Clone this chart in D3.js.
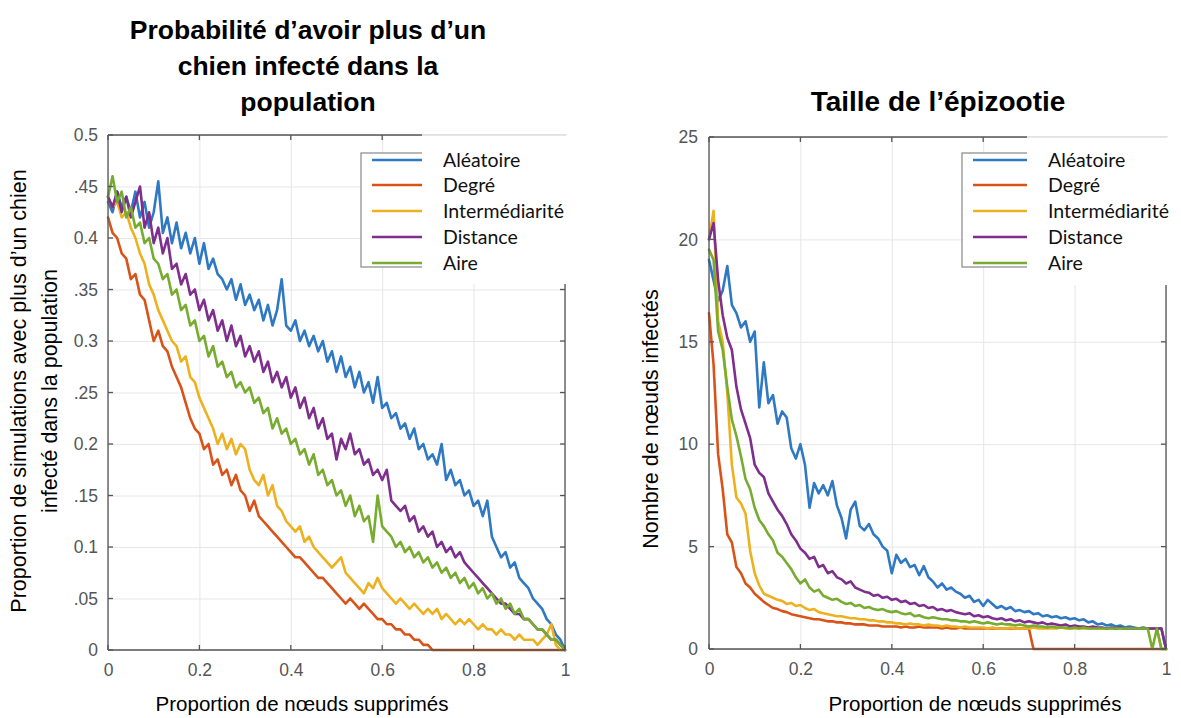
<!DOCTYPE html>
<html><head><meta charset="utf-8">
<script src="https://cdn.jsdelivr.net/npm/d3@7"></script>
<style>body{margin:0;background:#fff;} svg{display:block}</style>
</head><body><svg id="c" width="1181" height="718"></svg>
<script>
// ---------- DATA ----------
const proportions = [
0,0.01,0.02,0.03,0.04,0.05,0.06,0.07,0.08,0.09,
0.10,0.11,0.12,0.13,0.14,0.15,0.16,0.17,0.18,0.19,
0.20,0.21,0.22,0.23,0.24,0.25,0.26,0.27,0.28,0.29,
0.30,0.31,0.32,0.33,0.34,0.35,0.36,0.37,0.38,0.39,
0.40,0.41,0.42,0.43,0.44,0.45,0.46,0.47,0.48,0.49,
0.50,0.51,0.52,0.53,0.54,0.55,0.56,0.57,0.58,0.59,
0.60,0.61,0.62,0.63,0.64,0.65,0.66,0.67,0.68,0.69,
0.70,0.71,0.72,0.73,0.74,0.75,0.76,0.77,0.78,0.79,
0.80,0.81,0.82,0.83,0.84,0.85,0.86,0.87,0.88,0.89,
0.90,0.91,0.92,0.93,0.94,0.95,0.96,0.97,0.98,0.99,
1.00];

const seriesNames = ["Aléatoire","Degré","Intermédiarité","Distance","Aire"];
const seriesColors = ["#2f78c4","#d95319","#edb120","#7e2f8e","#77ac30"];

// Left panel: probability of more than one infected dog
const probAleatoire = [
0.435,0.425,0.445,0.43,0.44,0.425,0.445,0.42,0.435,0.41,
0.425,0.455,0.405,0.42,0.395,0.415,0.39,0.405,0.385,0.40,
0.375,0.395,0.37,0.38,0.365,0.36,0.35,0.36,0.34,0.355,
0.335,0.345,0.33,0.34,0.32,0.335,0.315,0.33,0.36,0.315,
0.31,0.32,0.30,0.31,0.295,0.305,0.29,0.30,0.28,0.29,
0.27,0.285,0.265,0.275,0.255,0.27,0.25,0.26,0.24,0.265,
0.235,0.24,0.225,0.23,0.215,0.22,0.205,0.215,0.195,0.20,
0.185,0.19,0.18,0.20,0.165,0.175,0.16,0.165,0.15,0.155,
0.14,0.145,0.13,0.145,0.11,0.10,0.09,0.095,0.08,0.085,
0.07,0.065,0.06,0.05,0.045,0.04,0.03,0.025,0.015,0.01,
0];
const probDegre = [
0.42,0.405,0.40,0.385,0.38,0.36,0.365,0.345,0.34,0.32,
0.30,0.31,0.295,0.29,0.275,0.265,0.255,0.24,0.225,0.215,
0.21,0.195,0.20,0.18,0.185,0.17,0.175,0.16,0.17,0.155,
0.15,0.135,0.145,0.13,0.125,0.12,0.115,0.11,0.105,0.10,
0.095,0.09,0.09,0.085,0.08,0.075,0.07,0.07,0.065,0.06,
0.055,0.05,0.045,0.05,0.045,0.04,0.045,0.04,0.035,0.03,
0.03,0.025,0.025,0.02,0.02,0.015,0.015,0.01,0.01,0.005,
0.005,0,0,0,0,0,0,0,0,0,
0,0,0,0,0,0,0,0,0,0,
0,0,0,0,0,0,0,0,0,0,
0];
const probIntermediarite = [
0.44,0.43,0.435,0.42,0.425,0.41,0.40,0.385,0.375,0.355,
0.345,0.33,0.32,0.31,0.30,0.295,0.28,0.285,0.265,0.26,
0.245,0.235,0.225,0.215,0.20,0.21,0.195,0.205,0.19,0.20,
0.195,0.175,0.165,0.16,0.17,0.15,0.16,0.14,0.135,0.125,
0.12,0.115,0.12,0.105,0.11,0.10,0.095,0.09,0.085,0.08,
0.085,0.09,0.075,0.07,0.065,0.06,0.055,0.065,0.06,0.07,
0.06,0.055,0.05,0.045,0.05,0.045,0.04,0.045,0.04,0.035,
0.04,0.035,0.04,0.03,0.035,0.03,0.025,0.03,0.025,0.03,
0.025,0.02,0.025,0.02,0.02,0.015,0.02,0.015,0.015,0.01,
0.015,0.01,0.01,0.01,0.005,0.01,0.015,0.025,0.005,0,
0];
const probDistance = [
0.44,0.43,0.445,0.425,0.44,0.42,0.435,0.45,0.41,0.425,
0.395,0.41,0.385,0.40,0.37,0.375,0.355,0.365,0.345,0.35,
0.33,0.34,0.32,0.33,0.31,0.32,0.30,0.315,0.295,0.305,
0.285,0.295,0.28,0.29,0.27,0.28,0.26,0.27,0.255,0.265,
0.245,0.255,0.235,0.245,0.225,0.235,0.215,0.225,0.205,0.21,
0.185,0.205,0.195,0.21,0.19,0.195,0.18,0.185,0.17,0.175,
0.165,0.175,0.145,0.14,0.135,0.14,0.125,0.13,0.115,0.12,
0.11,0.115,0.10,0.105,0.095,0.10,0.09,0.095,0.085,0.08,
0.075,0.07,0.065,0.06,0.055,0.05,0.045,0.045,0.04,0.035,
0.035,0.03,0.03,0.025,0.02,0.02,0.015,0.01,0.01,0.005,
0];
const probAire = [
0.44,0.46,0.435,0.445,0.42,0.43,0.41,0.415,0.395,0.40,
0.38,0.375,0.36,0.365,0.345,0.35,0.33,0.335,0.315,0.32,
0.30,0.305,0.285,0.295,0.275,0.28,0.265,0.27,0.255,0.26,
0.25,0.255,0.24,0.245,0.23,0.235,0.215,0.225,0.21,0.215,
0.20,0.205,0.19,0.195,0.18,0.19,0.17,0.175,0.16,0.165,
0.15,0.155,0.14,0.15,0.13,0.14,0.125,0.13,0.105,0.15,
0.12,0.115,0.11,0.10,0.105,0.095,0.10,0.09,0.095,0.085,
0.09,0.08,0.085,0.075,0.08,0.07,0.075,0.065,0.07,0.06,
0.065,0.055,0.06,0.05,0.055,0.045,0.05,0.04,0.045,0.035,
0.04,0.03,0.03,0.025,0.02,0.02,0.015,0.01,0.01,0.005,
0];

// Right panel: epizootic size (number of infected nodes)
const tailleAleatoire = [
19.0,18.0,17.0,17.5,18.7,16.8,16.4,15.7,16.0,15.0,
15.5,11.8,14.0,12.0,12.4,11.0,11.6,11.3,9.8,9.3,
10.0,9.0,6.9,8.1,7.6,8.0,7.5,8.2,7.0,6.4,
5.4,6.8,7.2,6.0,5.8,6.1,5.6,5.4,5.0,4.8,
3.7,4.6,4.2,4.4,4.0,4.1,3.6,4.05,3.5,3.3,
3.0,3.2,2.9,3.0,2.8,2.7,2.5,2.6,2.3,2.4,
2.1,2.4,2.2,2.0,2.1,1.95,2.05,1.85,1.9,1.8,
1.85,1.7,1.75,1.6,1.65,1.55,1.6,1.5,1.55,1.45,
1.5,1.4,1.45,1.3,1.35,1.2,1.25,1.15,1.2,1.1,
1.15,1.05,1.1,1.05,1.0,1.05,1.0,1.0,1.0,1.0,
0];
const tailleDegre = [
16.4,13.9,9.5,7.8,5.6,5.2,4.0,3.7,3.2,3.0,
2.7,2.5,2.3,2.15,2.0,1.95,1.85,1.8,1.7,1.65,
1.6,1.55,1.5,1.45,1.45,1.4,1.35,1.35,1.3,1.3,
1.25,1.25,1.2,1.2,1.2,1.15,1.15,1.15,1.1,1.1,
1.1,1.1,1.05,1.1,1.05,1.05,1.1,1.05,1.05,1.05,
1.05,1.0,1.05,1.0,1.0,1.05,1.0,1.0,1.0,1.0,
1.0,1.0,1.0,1.0,1.0,1.0,1.0,1.0,1.0,1.0,
1.0,0,0,0,0,0,0,0,0,0,
0,0,0,0,0,0,0,0,0,0,
0,0,0,0,0,0,0,0,0,0,
0];
const tailleIntermediarite = [
20.0,21.4,16.0,15.0,12.5,9.0,7.4,7.1,6.6,4.8,
3.7,3.1,2.7,2.6,2.5,2.4,2.35,2.2,2.25,2.1,
2.15,2.0,1.9,1.95,1.8,1.75,1.7,1.65,1.6,1.6,
1.55,1.5,1.5,1.45,1.45,1.4,1.4,1.35,1.35,1.3,
1.3,1.25,1.25,1.2,1.25,1.2,1.2,1.15,1.2,1.15,
1.15,1.1,1.15,1.1,1.1,1.05,1.1,1.05,1.05,1.05,
1.05,1.0,1.05,1.0,1.0,1.0,1.05,1.0,1.0,1.0,
1.0,1.05,1.0,1.0,1.0,1.0,1.0,1.05,1.0,1.0,
1.0,1.0,1.0,1.0,1.0,1.0,1.0,1.0,1.0,1.0,
1.0,1.0,1.0,1.0,1.0,1.0,1.0,1.0,1.0,0,
0];
const tailleDistance = [
20.0,20.8,18.0,16.3,15.2,14.6,12.8,11.7,11.0,10.3,
9.0,8.6,8.4,7.6,7.2,6.8,6.5,6.1,5.6,5.3,
4.9,4.7,4.4,4.5,4.0,4.1,3.7,3.8,3.5,3.4,
3.2,3.3,3.0,2.9,2.8,2.75,2.6,2.65,2.5,2.55,
2.4,2.45,2.3,2.35,2.2,2.25,2.1,2.15,2.0,2.05,
1.9,1.95,1.85,1.9,1.8,1.75,1.7,1.75,1.6,1.65,
1.55,1.6,1.5,1.45,1.5,1.4,1.45,1.35,1.4,1.3,
1.35,1.3,1.25,1.3,1.2,1.25,1.2,1.15,1.2,1.1,
1.15,1.1,1.1,1.05,1.1,1.05,1.05,1.0,1.05,1.0,
1.05,1.0,1.0,1.0,1.0,1.0,1.0,1.0,1.0,1.0,
0];
const tailleAire = [
19.5,19.0,15.5,14.6,12.8,11.2,10.4,9.4,8.3,7.8,
6.9,6.3,6.0,5.6,5.3,4.7,4.5,4.2,3.9,3.5,
3.2,3.4,3.0,2.8,2.9,2.6,2.5,2.4,2.45,2.3,
2.2,2.25,2.1,2.15,2.0,2.05,1.95,1.9,1.95,1.85,
1.8,1.85,1.75,1.7,1.75,1.6,1.65,1.55,1.5,1.55,
1.5,1.45,1.45,1.4,1.4,1.35,1.35,1.3,1.35,1.3,
1.25,1.3,1.25,1.2,1.25,1.2,1.2,1.15,1.2,1.15,
1.1,1.15,1.1,1.1,1.05,1.1,1.05,1.05,1.05,1.0,
1.05,1.0,1.05,1.0,1.0,1.0,1.0,1.0,1.0,1.0,
1.0,1.0,1.0,1.0,1.0,1.0,1.0,0,1.0,0,
0];

const xTickValues = [0,0.2,0.4,0.6,0.8,1];
const xTickLabels = ["0","0.2","0.4","0.6","0.8","1"];
const probTickValues = [0,0.05,0.1,0.15,0.2,0.25,0.3,0.35,0.4,0.45,0.5];
const probTickLabels = ["0",".05","0.1",".15","0.2",".25","0.3",".35","0.4",".45","0.5"];
const tailleTickValues = [0,5,10,15,20,25];
const tailleTickLabels = ["0","5","10","15","20","25"];

// ---------- DRAW ----------
const svg = d3.select("#c");
svg.append("rect").attr("width",1181).attr("height",718).attr("fill","#fff");
const TICKFONT = "'Liberation Sans', Arial, Helvetica, sans-serif";

function panel(o){
  const g = svg.append("g");
  const x = d3.scaleLinear().domain([0,1]).range([o.left,o.right]);
  const y = d3.scaleLinear().domain(o.yDomain).range([o.bottom,o.top]);
  const H = o.bottom-o.top, W = o.right-o.left;

  // grid
  g.append("g").attr("transform",`translate(0,${o.bottom})`)
    .call(d3.axisBottom(x).tickValues(xTickValues).tickSize(-H).tickFormat(""))
    .call(s=>{s.select(".domain").remove(); s.selectAll("line").attr("stroke","#e6e6e6").attr("stroke-width",1);});
  g.append("g").attr("transform",`translate(${o.left},0)`)
    .call(d3.axisLeft(y).tickValues(o.yTicks).tickSize(-W).tickFormat(""))
    .call(s=>{s.select(".domain").remove(); s.selectAll("line").attr("stroke","#e6e6e6").attr("stroke-width",1);});

  // series
  const line = d3.line().x((d,i)=>x(proportions[i])).y(d=>y(d));
  o.series.forEach((vals,k)=>{
    g.append("path").attr("d",line(vals)).attr("fill","none")
      .attr("stroke",seriesColors[k]).attr("stroke-width",2.6)
      .attr("stroke-linejoin","round").attr("stroke-linecap","round");
  });

  // frame
  const fc = "#555", fw = 1.3;
  const L = (x1,y1,x2,y2,c,w)=>g.append("line").attr("x1",x1).attr("y1",y1).attr("x2",x2).attr("y2",y2)
      .attr("stroke",c||fc).attr("stroke-width",w||fw);
  L(o.left,o.bottom,o.right,o.bottom);
  L(o.left,o.top,o.left,o.bottom);
  L(o.left,o.top,o.cutX,o.top);
  L(o.right,o.cutY,o.right,o.bottom);
  // inward ticks
  xTickValues.forEach(v=>{
    L(x(v),o.bottom,x(v),o.bottom-5);
    if (x(v) < o.cutX) L(x(v),o.top,x(v),o.top+5);
  });
  o.yTicks.forEach(v=>{
    L(o.left,y(v),o.left+5,y(v));
    if (y(v) > o.cutY) L(o.right,y(v),o.right-5,y(v));
  });

  // tick labels
  g.append("g").attr("transform",`translate(0,${o.bottom})`)
    .call(d3.axisBottom(x).tickValues(xTickValues).tickFormat((d,i)=>xTickLabels[i]).tickSize(0).tickPadding(14))
    .call(s=>{s.select(".domain").remove(); s.selectAll("text").attr("font-size",17.5).attr("fill","#555").attr("font-family",TICKFONT);});
  g.append("g").attr("transform",`translate(${o.left},0)`)
    .call(d3.axisLeft(y).tickValues(o.yTicks).tickFormat((d,i)=>o.yLabels[i]).tickSize(0).tickPadding(o.yPad))
    .call(s=>{s.select(".domain").remove(); s.selectAll("text").attr("font-size",17.5).attr("fill","#555").attr("font-family",TICKFONT);});

  // legend (box partially covered by a white panel with the labels)
  const lg = o.legend;
  g.append("rect").attr("x",lg.x).attr("y",lg.y).attr("width",lg.w).attr("height",lg.h)
    .attr("fill","#fff").attr("stroke","#888").attr("stroke-width",1.2);
  seriesNames.forEach((n,k)=>{
    const yy = lg.rowY[k];
    g.append("line").attr("x1",lg.x+11).attr("x2",o.cutX).attr("y1",yy).attr("y2",yy)
      .attr("stroke",seriesColors[k]).attr("stroke-width",2.4);
  });
  g.append("rect").attr("x",o.cutX).attr("y",o.top+1).attr("width",o.right-o.cutX+6).attr("height",o.cutY-o.top-1)
    .attr("fill","#fff");
  L(o.cutX,o.top-0.5,o.right+2,o.top-0.5,"#e2e2e2",1);
  seriesNames.forEach((n,k)=>{
    g.append("text").attr("x",lg.textX).attr("y",lg.rowY[k]).attr("dy","0.36em")
      .attr("font-family","Lato, 'Open Sans', sans-serif").attr("font-size",19.5).attr("fill","#111").text(n);
  });
}

panel({
  left:108, right:565, top:135, bottom:650, yDomain:[0,0.5],
  yTicks:probTickValues, yLabels:probTickLabels, yPad:10,
  series:[probAleatoire,probDegre,probIntermediarite,probDistance,probAire],
  cutX:422, cutY:284,
  legend:{x:361,y:153,w:80,h:114,rowY:[160,185,211,237,263],textX:443}
});
panel({
  left:709, right:1166, top:137, bottom:649, yDomain:[0,25],
  yTicks:tailleTickValues, yLabels:tailleTickLabels, yPad:11,
  series:[tailleAleatoire,tailleDegre,tailleIntermediarite,tailleDistance,tailleAire],
  cutX:1027, cutY:285,
  legend:{x:962,y:153,w:80,h:114,rowY:[160,185,211,237,263],textX:1048}
});

// titles and axis labels
const TF = "'Liberation Sans', Arial, Helvetica, sans-serif";
const title1 = ["Probabilité d’avoir plus d’un","chien infecté dans la","population"];
title1.forEach((t,i)=>svg.append("text").attr("x",308).attr("y",39+i*36).attr("text-anchor","middle")
  .attr("font-family",TF).attr("font-weight","bold").attr("font-size",26.5).attr("fill","#000").text(t));
svg.append("text").attr("x",938).attr("y",111).attr("text-anchor","middle")
  .attr("font-family",TF).attr("font-weight","bold").attr("font-size",28).attr("fill","#000").text("Taille de l’épizootie");

const xl = "Proportion de nœuds supprimés";
[[302,704],[975,704]].forEach(p=>svg.append("text").attr("x",p[0]).attr("y",p[1]).attr("dy","0.35em")
  .attr("text-anchor","middle").attr("font-family",TF).attr("font-size",20.5).attr("fill","#000").text(xl));

const yl1 = ["Proportion de simulations avec plus d’un chien","infecté dans la population"];
yl1.forEach((t,i)=>svg.append("text").attr("transform",`translate(${18+i*31},391) rotate(-90)`)
  .attr("dy","0.35em").attr("text-anchor","middle").attr("font-family",TF).attr("font-size",21.5).attr("fill","#000").text(t));
svg.append("text").attr("transform",`translate(650,419) rotate(-90)`)
  .attr("dy","0.35em").attr("text-anchor","middle").attr("font-family",TF).attr("font-size",21.5).attr("fill","#000").text("Nombre de nœuds infectés");
</script>
</body></html>
